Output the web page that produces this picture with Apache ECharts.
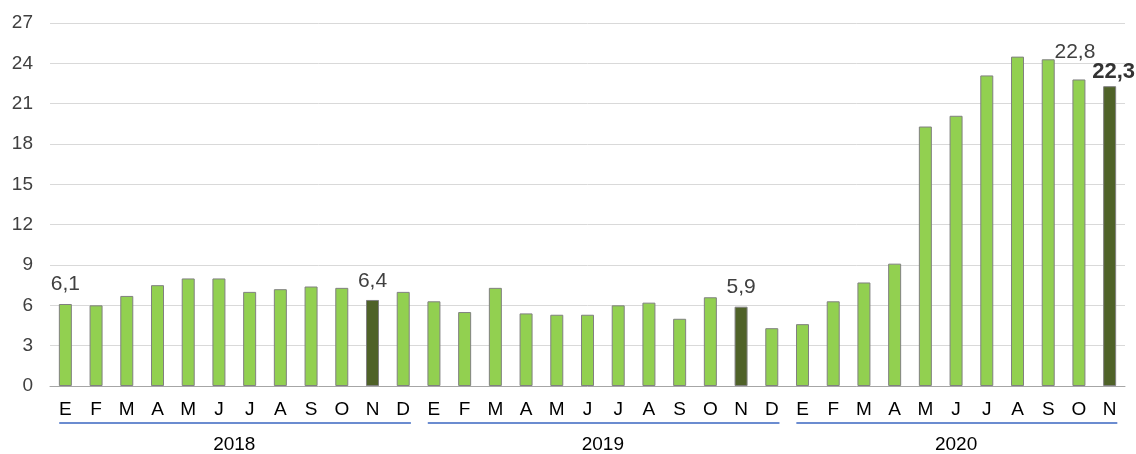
<!DOCTYPE html>
<html><head><meta charset="utf-8">
<script src="https://cdn.jsdelivr.net/npm/echarts@6/dist/echarts.min.js"></script>
<style>html,body{margin:0;padding:0;background:#fff}#c{width:1136px;height:454px}</style>
</head><body><div id="c"></div>
<script>
const months = ['E','F','M','A','M','J','J','A','S','O','N','D','E','F','M','A','M','J','J','A','S','O','N','D','E','F','M','A','M','J','J','A','S','O','N'];
const values = [6.1,6.0,6.7,7.5,8.0,8.0,7.0,7.2,7.4,7.3,6.4,7.0,
                6.3,5.5,7.3,5.4,5.3,5.3,6.0,6.2,5.0,6.6,5.9,4.3,
                4.6,6.3,7.7,9.1,19.3,20.1,23.1,24.5,24.3,22.8,22.3];
const years = ['2018','2019','2020'];
const yearStart = [0,12,24];
const yearEnd = [11,23,34];
const highlighted = [10,22,34];
const labelled = [0,10,22,33,34];
const yTicks = [0,3,6,9,12,15,18,21,24,27];

const FONT = 'Liberation Sans, Arial, sans-serif';
const fmt = v => String(v.toFixed(1)).replace('.', ',');

const labelStyle = {
  0: {distance: 9},
  10: {distance: 8},
  22: {distance: 9},
  33: {distance: 5, offset: [-4, -12]},
  34: {distance: 3, offset: [4, 0], fontWeight: 'bold', fontSize: 22, color: '#333'}
};

const barData = values.map((v, i) => {
  const d = {value: v};
  if (highlighted.includes(i)) d.itemStyle = {color: '#4F6228'};
  if (labelled.includes(i)) {
    d.label = Object.assign({show: true, position: 'top', formatter: p => fmt(p.value),
      fontSize: 21, color: '#404040', fontFamily: FONT}, labelStyle[i] || {});
  }
  return d;
});

const yearData = years.map((y, i) => [yearStart[i], yearEnd[i], y]);

const chart = echarts.init(document.getElementById('c'), null, {renderer: 'canvas'});
chart.setOption({
  animation: false,
  grid: {left: 50, right: 11, top: 23, bottom: 68},
  xAxis: {
    type: 'category', data: months,
    axisLine: {lineStyle: {color: '#a6a6a6'}},
    axisTick: {show: false},
    axisLabel: {color: '#000', fontSize: 19, fontFamily: FONT, margin: 14, interval: 0}
  },
  yAxis: {
    type: 'value', min: yTicks[0], max: yTicks[yTicks.length-1], interval: 3,
    axisLine: {show: false}, axisTick: {show: false},
    splitLine: {lineStyle: {color: '#d9d9d9'}},
    axisLabel: {color: '#404040', fontSize: 19, fontFamily: FONT, margin: 17}
  },
  series: [
    {
      type: 'bar', data: barData, barWidth: 13,
      itemStyle: {color: '#92D050', borderColor: '#808080', borderWidth: 1},
      label: {show: false}
    },
    {
      type: 'custom', data: yearData, clip: false, silent: true,
      encode: {x: [0, 1]},
      renderItem: (params, api) => {
        const s = api.value(0), e = api.value(1);
        const p0 = api.coord([s, 0]);
        const p1 = api.coord([e, 0]);
        const bw = api.size([1, 0])[0];
        const cs = params.coordSys;
        const y = cs.y + cs.height + 37;
        return {
          type: 'group',
          children: [
            {type: 'line', shape: {x1: p0[0] - bw * 0.2, y1: y, x2: p1[0] + bw * 0.25, y2: y},
             style: {stroke: '#3A66C0', lineWidth: 1.5}},
            {type: 'text', x: (p0[0] + p1[0]) / 2, y: y + 22,
             style: {text: years[params.dataIndex], fill: '#000', font: '19px ' + FONT,
                     align: 'center', verticalAlign: 'middle'}}
          ]
        };
      }
    }
  ]
});
</script></body></html>
